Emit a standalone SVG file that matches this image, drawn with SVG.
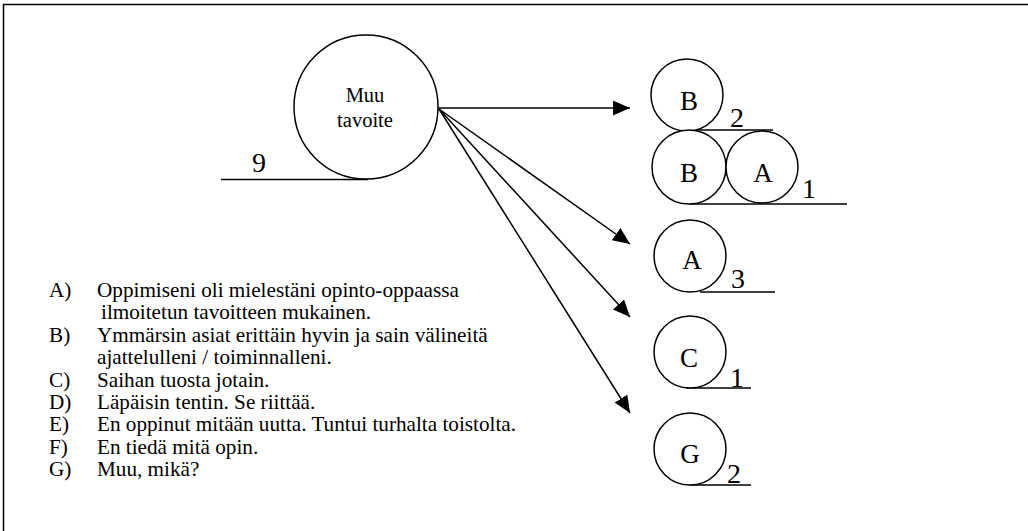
<svg xmlns="http://www.w3.org/2000/svg" width="1028" height="531" viewBox="0 0 1028 531">
<style>
  .ln{fill:none;stroke:#000;stroke-width:1.5}
  .c{fill:#fff;stroke:#000;stroke-width:1.5}
  .t{font-family:"Liberation Serif","Times New Roman",serif;fill:#000}
  .lbl{font-size:27px;text-anchor:middle}
  .num{font-size:28px}
  .lst{font-size:21.2px}
</style>
<defs>
  <marker id="ah" markerUnits="userSpaceOnUse" markerWidth="18" markerHeight="16" refX="17" refY="7.5" orient="auto">
    <path d="M0,0 L17,7.5 L0,15 Z" fill="#000"/>
  </marker>
</defs>
<rect width="1028" height="531" fill="#fff"/>
<path class="ln" d="M3.5,531 V4.5 H1028"/>

<g id="connectors">
  <line class="ln" x1="438" y1="108" x2="630" y2="108" marker-end="url(#ah)"/>
  <line class="ln" x1="439" y1="109" x2="630" y2="244" marker-end="url(#ah)"/>
  <line class="ln" x1="439" y1="109" x2="630" y2="317" marker-end="url(#ah)"/>
  <line class="ln" x1="439" y1="109" x2="630" y2="413" marker-end="url(#ah)"/>
</g>

<g id="muu">
  <line class="ln" x1="221" y1="179.5" x2="368" y2="179.5"/>
  <circle class="c" cx="366" cy="107" r="72"/>
  <text class="t" x="365" y="102" font-size="20.5" text-anchor="middle">Muu</text>
  <text class="t" x="365" y="127" font-size="20.5" text-anchor="middle">tavoite</text>
  <text class="t num" x="252" y="172">9</text>
</g>

<g id="b2">
  <line class="ln" x1="690" y1="130" x2="773" y2="130"/>
  <circle class="c" cx="687" cy="95" r="36"/>
  <text class="t lbl" x="689" y="110">B</text>
  <text class="t num" x="730" y="127">2</text>
</g>

<g id="ba1">
  <line class="ln" x1="690" y1="204" x2="847" y2="204"/>
  <circle class="c" cx="689" cy="167" r="37"/>
  <circle class="c" cx="762" cy="167" r="36"/>
  <text class="t lbl" x="689" y="182">B</text>
  <text class="t lbl" x="763" y="182">A</text>
  <text class="t num" x="802" y="198">1</text>
</g>

<g id="a3">
  <line class="ln" x1="700" y1="292" x2="775" y2="292"/>
  <circle class="c" cx="690" cy="256" r="36"/>
  <text class="t lbl" x="692" y="269">A</text>
  <text class="t num" x="731" y="288">3</text>
</g>

<g id="c1">
  <line class="ln" x1="686" y1="388" x2="751" y2="388"/>
  <circle class="c" cx="690" cy="352" r="36"/>
  <text class="t lbl" x="689" y="367">C</text>
  <text class="t num" x="730" y="387">1</text>
</g>

<g id="g2">
  <line class="ln" x1="690" y1="485" x2="751" y2="485"/>
  <circle class="c" cx="690" cy="449" r="36"/>
  <text class="t lbl" x="690" y="463">G</text>
  <text class="t num" x="727" y="483">2</text>
</g>

<g id="legend" class="t lst">
  <text x="49" y="297">A)</text>
  <text x="97" y="297">Oppimiseni oli mielestäni opinto-oppaassa</text>
  <text x="101" y="319">ilmoitetun tavoitteen mukainen.</text>
  <text x="49" y="342">B)</text>
  <text x="97" y="342">Ymmärsin asiat erittäin hyvin ja sain välineitä</text>
  <text x="97" y="364">ajattelulleni / toiminnalleni.</text>
  <text x="49" y="387">C)</text>
  <text x="97" y="387">Saihan tuosta jotain.</text>
  <text x="49" y="409">D)</text>
  <text x="97" y="409">Läpäisin tentin. Se riittää.</text>
  <text x="49" y="431">E)</text>
  <text x="97" y="431">En oppinut mitään uutta. Tuntui turhalta toistolta.</text>
  <text x="49" y="454">F)</text>
  <text x="97" y="454">En tiedä mitä opin.</text>
  <text x="49" y="476">G)</text>
  <text x="97" y="476">Muu, mikä?</text>
</g>
</svg>
